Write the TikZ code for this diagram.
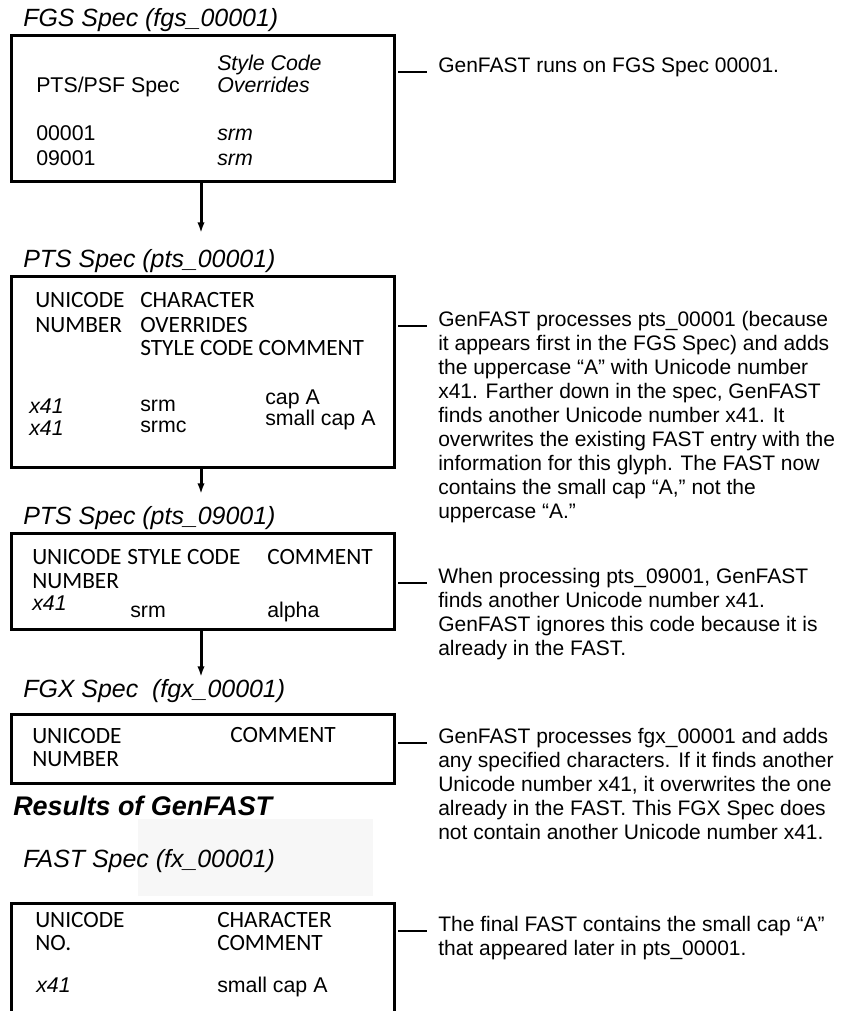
\documentclass[tikz,border=0pt]{standalone}
\usepackage{fontspec}
\setmainfont{Liberation Sans}
\newfontfamily\carlito{Carlito}
\usetikzlibrary{arrows.meta}

\tikzset{
  x=0.75pt, y=-0.75pt,
  title/.style={anchor=base west, inner sep=0pt, font=\fontsize{18.7}{21}\selectfont\itshape},
  hdr/.style={anchor=base west, inner sep=0pt, font=\carlito\fontsize{17.5}{20}\selectfont},
  val/.style={anchor=base west, inner sep=0pt, font=\fontsize{16}{18}\selectfont},
  ival/.style={val, font=\fontsize{16}{18}\selectfont\itshape},
  note/.style={anchor=base west, inner sep=0pt, font=\fontsize{15.75}{18}\selectfont},
  specbox/.style={draw, line width=2.25pt, anchor=north west, inner sep=0pt},
  flow/.style={line width=2.25pt, -{Latex[length=8pt,width=5.5pt]}},
  tick/.style={line width=1.5pt},
}
\newcommand{\notetext}[1]{\parbox[t]{310pt}{\raggedright #1}}

\begin{document}
\begin{tikzpicture}
\useasboundingbox (0,0) rectangle (841,1011);
\clip (0,0) rectangle (841,1011);
\fill[white] (0,0) rectangle (841,1011);

% faint screened patch behind the FAST Spec heading
\fill[black!3] (138,819) rectangle (373,896);

% ---------- FGS Spec ----------
\node[title] (t1) at (23,26) {FGS Spec (fgs\_00001)};
\node[specbox, minimum width=287.25pt, minimum height=109.5pt] (box1) at (10,34) {};
\node[ival] (b1h1) at (217,70) {Style Code};
\node[val]  (b1h2) at (36,92) {PTS/PSF Spec};
\node[ival] (b1h3) at (217,92) {Overrides};
\node[val]  (b1r1) at (36,140) {00001};
\node[ival] (b1v1) at (217,140) {srm};
\node[val]  (b1r2) at (36,165) {09001};
\node[ival] (b1v2) at (217,165) {srm};

\node[note] (n1) at (438,72) {\notetext{GenFAST runs on FGS Spec 00001.}};
\draw[tick] (box1.east |- n1.base) ++(2,0) -- ([xshift=-8.25pt]n1.base west);

\coordinate (a1) at (201,233);
\draw[flow] (box1.south -| a1) -- (a1);

% ---------- PTS Spec 00001 ----------
\node[title] (t2) at (23,267) {PTS Spec (pts\_00001)};
\node[specbox, minimum width=287.25pt, minimum height=143.25pt] (box2) at (10,275) {};
\node[hdr] (b2h1) at (35,307) {UNICODE};
\node[hdr] (b2h2) at (35,332) {NUMBER};
\node[hdr] (b2h3) at (140,307) {CHARACTER};
\node[hdr] (b2h4) at (140,332) {OVERRIDES};
\node[hdr] (b2h5) at (140,355) {STYLE CODE COMMENT};
\node[ival] (b2r1) at (29,413) {x41};
\node[ival] (b2r2) at (29,435) {x41};
\node[val]  (b2s1) at (140,411) {srm};
\node[val]  (b2s2) at (140,432) {srmc};
\node[val]  (b2c1) at (265,404) {cap A};
\node[val]  (b2c2) at (265,425) {small cap A};

\node[note] (n2) at (438,326) {\notetext{GenFAST processes pts\_00001 (because\\
it appears first in the FGS Spec) and adds\\
the uppercase “A” with Unicode number\\
x41. Farther down in the spec, GenFAST\\
finds another Unicode number x41. It\\
overwrites the existing FAST entry with the\\
information for this glyph. The FAST now\\
contains the small cap “A,” not the\\
uppercase “A.”}};
\draw[tick] (box2.east |- n2.base) ++(2,0) -- ([xshift=-8.25pt]n2.base west);

\coordinate (a2) at (201,494);
\draw[flow] (box2.south -| a2) -- (a2);

% ---------- PTS Spec 09001 ----------
\node[title] (t3) at (23,524) {PTS Spec (pts\_09001)};
\node[specbox, minimum width=287.25pt, minimum height=72pt] (box3) at (10,532) {};
\node[hdr] (b3h1) at (32,564) {UNICODE};
\node[hdr] (b3h2) at (32,588) {NUMBER};
\node[hdr] (b3h3) at (127,564) {STYLE CODE};
\node[hdr] (b3h4) at (267,564) {COMMENT};
\node[ival] (b3r1) at (32,610) {x41};
\node[val]  (b3s1) at (130,617) {srm};
\node[val]  (b3c1) at (267,617) {alpha};

\node[note] (n3) at (438,583) {\notetext{When processing pts\_09001, GenFAST\\
finds another Unicode number x41.\\
GenFAST ignores this code because it is\\
already in the FAST.}};
\draw[tick] (box3.east |- n3.base) ++(2,0) -- ([xshift=-8.25pt]n3.base west);

\coordinate (a3) at (201,677);
\draw[flow] (box3.south -| a3) -- (a3);

% ---------- FGX Spec ----------
\node[title] (t4) at (23,697) {FGX Spec\ \ (fgx\_00001)};
\node[specbox, minimum width=287.25pt, minimum height=51.75pt] (box4) at (10,713) {};
\node[hdr] (b4h1) at (32,743) {UNICODE};
\node[hdr] (b4h2) at (32,766) {NUMBER};
\node[hdr] (b4h3) at (230,742) {COMMENT};

\node[note] (n4) at (438,743) {\notetext{GenFAST processes fgx\_00001 and adds\\
any specified characters. If it finds another\\
Unicode number x41, it overwrites the one\\
already in the FAST. This FGX Spec does\\
not contain another Unicode number x41.}};
\draw[tick] (box4.east |- n4.base) ++(2,0) -- ([xshift=-8.25pt]n4.base west);

% ---------- Results ----------
\node[anchor=base west, inner sep=0pt, font=\fontsize{20.2}{23}\selectfont\bfseries\itshape] (res) at (13,815) {Results of GenFAST};

\node[title] (t5) at (23,867) {FAST Spec (fx\_00001)};
\node[specbox, minimum width=287.25pt, minimum height=110pt] (box5) at (10,902) {};
\node[hdr] (b5h1) at (35,927) {UNICODE};
\node[hdr] (b5h2) at (35,950) {NO.};
\node[hdr] (b5h3) at (217,927) {CHARACTER};
\node[hdr] (b5h4) at (217,950) {COMMENT};
\node[ival] (b5r1) at (36,992) {x41};
\node[val]  (b5c1) at (217,992) {small cap A};

\node[note] (n5) at (438,931) {\notetext{The final FAST contains the small cap “A”\\
that appeared later in pts\_00001.}};
\draw[tick] (box5.east |- n5.base) ++(2,0) -- ([xshift=-8.25pt]n5.base west);
\end{tikzpicture}
\end{document}
